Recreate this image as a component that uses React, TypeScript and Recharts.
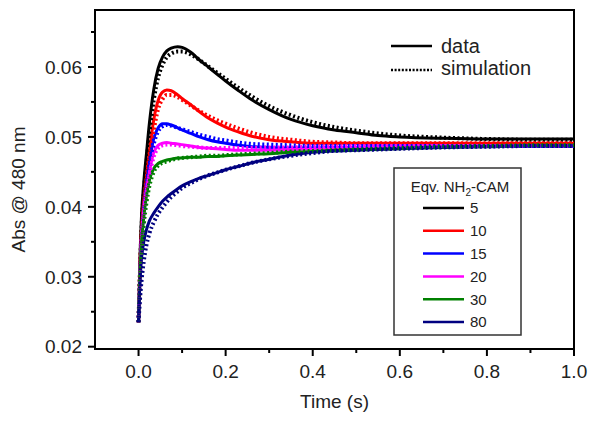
import React from 'react';
import { LineChart, Line, XAxis, YAxis, ReferenceArea, Legend } from 'recharts';

const times = [0, 0.003, 0.007, 0.012, 0.018, 0.025, 0.035, 0.045, 0.055, 0.065, 0.075, 0.09, 0.1, 0.12, 0.14, 0.16, 0.18, 0.2, 0.23, 0.26, 0.3, 0.35, 0.4, 0.45, 0.5, 0.55, 0.6, 0.7, 0.8, 0.9, 1.0];

const data5 = [0.0235, 0.032, 0.039, 0.0435, 0.0475, 0.052, 0.0568, 0.0598, 0.0614, 0.0623, 0.0627, 0.0629, 0.0628, 0.0621, 0.0610, 0.0600, 0.0590, 0.0580, 0.0566, 0.0553, 0.0539, 0.0525, 0.0516, 0.0510, 0.0506, 0.0502, 0.0500, 0.0498, 0.0497, 0.0497, 0.0497];
const sim5 = [0.0235, 0.030, 0.037, 0.042, 0.046, 0.0505, 0.0553, 0.0585, 0.0603, 0.0614, 0.0619, 0.0622, 0.0622, 0.0618, 0.0610, 0.0601, 0.0592, 0.0583, 0.0570, 0.0558, 0.0544, 0.0531, 0.0521, 0.0514, 0.0509, 0.0505, 0.0502, 0.0499, 0.0497, 0.0496, 0.0496];
const data10 = [0.0235, 0.031, 0.037, 0.041, 0.0445, 0.048, 0.0525, 0.0552, 0.0564, 0.0567, 0.0566, 0.0560, 0.0555, 0.0546, 0.0536, 0.0527, 0.0520, 0.0514, 0.0507, 0.0501, 0.0496, 0.0493, 0.0491, 0.0491, 0.0491, 0.0491, 0.0491, 0.0491, 0.0491, 0.0491, 0.0491];
const sim10 = [0.0235, 0.030, 0.036, 0.040, 0.0435, 0.047, 0.051, 0.0540, 0.0554, 0.0560, 0.0560, 0.0557, 0.0553, 0.0545, 0.0537, 0.0530, 0.0524, 0.0519, 0.0512, 0.0506, 0.0500, 0.0496, 0.0493, 0.0492, 0.0491, 0.0491, 0.0491, 0.0491, 0.0491, 0.0491, 0.0491];
const data15 = [0.0235, 0.030, 0.036, 0.040, 0.0435, 0.0465, 0.0498, 0.0513, 0.0519, 0.0519, 0.0517, 0.0513, 0.0510, 0.0505, 0.0500, 0.0496, 0.0493, 0.0491, 0.0488, 0.0486, 0.0485, 0.0484, 0.0484, 0.0485, 0.0485, 0.0486, 0.0486, 0.0486, 0.0487, 0.0487, 0.0487];
const sim15 = [0.0235, 0.029, 0.035, 0.039, 0.0425, 0.0455, 0.049, 0.0508, 0.0515, 0.0517, 0.0516, 0.0513, 0.0511, 0.0507, 0.0503, 0.0500, 0.0497, 0.0495, 0.0492, 0.0490, 0.0489, 0.0488, 0.0487, 0.0487, 0.0487, 0.0487, 0.0487, 0.0487, 0.0487, 0.0487, 0.0487];
const data20 = [0.0235, 0.030, 0.0355, 0.0395, 0.0425, 0.0450, 0.0478, 0.0488, 0.0491, 0.0492, 0.0491, 0.0490, 0.0489, 0.0487, 0.0485, 0.0484, 0.0483, 0.0482, 0.0481, 0.0481, 0.0481, 0.0482, 0.0483, 0.0484, 0.0485, 0.0485, 0.0486, 0.0487, 0.0487, 0.0487, 0.0487];
const sim20 = [0.0235, 0.029, 0.035, 0.039, 0.042, 0.0445, 0.0472, 0.0484, 0.0488, 0.0489, 0.0489, 0.0488, 0.0487, 0.0486, 0.0485, 0.0484, 0.0484, 0.0484, 0.0484, 0.0484, 0.0485, 0.0485, 0.0486, 0.0486, 0.0487, 0.0487, 0.0487, 0.0487, 0.0487, 0.0487, 0.0487];
const data30 = [0.0235, 0.030, 0.035, 0.0385, 0.0415, 0.0438, 0.0455, 0.0462, 0.0465, 0.0467, 0.0468, 0.0470, 0.0470, 0.0471, 0.0471, 0.0472, 0.0472, 0.0473, 0.0474, 0.0475, 0.0476, 0.0478, 0.0479, 0.0481, 0.0482, 0.0483, 0.0484, 0.0486, 0.0487, 0.0488, 0.0488];
const sim30 = [0.0235, 0.029, 0.034, 0.0375, 0.0405, 0.043, 0.0450, 0.0459, 0.0463, 0.0465, 0.0467, 0.0469, 0.0470, 0.0471, 0.0472, 0.0473, 0.0473, 0.0474, 0.0475, 0.0476, 0.0477, 0.0479, 0.0480, 0.0481, 0.0482, 0.0483, 0.0484, 0.0486, 0.0487, 0.0488, 0.0488];
const data80 = [0.0235, 0.029, 0.0327, 0.0350, 0.0367, 0.0380, 0.0391, 0.0400, 0.0408, 0.0414, 0.0419, 0.0426, 0.0430, 0.0436, 0.0441, 0.0445, 0.0449, 0.0453, 0.0458, 0.0463, 0.0468, 0.0474, 0.0478, 0.0480, 0.0481, 0.0482, 0.0483, 0.0485, 0.0486, 0.0487, 0.0487];
const sim80 = [0.0235, 0.0265, 0.0295, 0.0322, 0.0345, 0.0362, 0.0378, 0.0390, 0.0399, 0.0407, 0.0414, 0.0422, 0.0427, 0.0434, 0.0440, 0.0445, 0.0449, 0.0453, 0.0458, 0.0463, 0.0468, 0.0473, 0.0477, 0.0480, 0.0481, 0.0482, 0.0483, 0.0485, 0.0486, 0.0487, 0.0487];

const seriesLabels = ['5', '10', '15', '20', '30', '80'];
const seriesColors = ['#000000', '#ff0000', '#0000ff', '#ff00ff', '#008000', '#000080'];
const dataSeries = [data5, data10, data15, data20, data30, data80];
const simSeries = [sim5, sim10, sim15, sim20, sim30, sim80];

const xMajor = [0, 0.2, 0.4, 0.6, 0.8, 1.0];
const xTicks = [0, 0.1, 0.2, 0.3, 0.4, 0.5, 0.6, 0.7, 0.8, 0.9, 1.0];
const yMajor = [0.02, 0.03, 0.04, 0.05, 0.06];
const yTicks = [0.02, 0.025, 0.03, 0.035, 0.04, 0.045, 0.05, 0.055, 0.06, 0.065];
const xDomain = [-0.1, 1.0];
const yDomain = [0.01967, 0.06815];

const rows = times.map((t, i) => {
  const r: Record<string, number> = { t };
  seriesLabels.forEach((lab, k) => {
    r['d' + lab] = dataSeries[k][i];
    r['s' + lab] = simSeries[k][i];
  });
  return r;
});

const FONT = "Arial, 'Liberation Sans', sans-serif";
const TXT = '#222';
const TS = 7;
const X_TM = 9;
const Y_TM = 6;

const isIn = (arr: number[], v: number) => arr.some((m) => Math.abs(m - v) < 1e-9);

const XTick = (props: any) => {
  const { x, y, payload } = props;
  const v = payload.value;
  const major = isIn(xMajor, v);
  const axisY = y - TS - X_TM;
  return (
    <g>
      <line x1={x} x2={x} y1={axisY} y2={axisY + (major ? TS : 4)} stroke="#000" strokeWidth={2} />
      {major && (
        <text x={x} y={y} dy="0.71em" textAnchor="middle" fontSize={19} fontFamily={FONT} fill={TXT}>
          {v.toFixed(1)}
        </text>
      )}
    </g>
  );
};

const YTick = (props: any) => {
  const { x, y, payload } = props;
  const v = payload.value;
  const major = isIn(yMajor, v);
  const axisX = x + TS + Y_TM;
  return (
    <g>
      <line x1={axisX - (major ? TS : 4)} x2={axisX} y1={y} y2={y} stroke="#000" strokeWidth={2} />
      {major && (
        <text x={x} y={y} dy="0.355em" textAnchor="end" fontSize={19} fontFamily={FONT} fill={TXT}>
          {v.toFixed(2)}
        </text>
      )}
    </g>
  );
};

const XLabel = (props: any) => {
  const vb = props.viewBox;
  return (
    <text x={vb.x + vb.width / 2} y={vb.y + 59} textAnchor="middle" fontSize={19} fontFamily={FONT} fill={TXT}>
      Time (s)
    </text>
  );
};

const YLabel = (props: any) => {
  const vb = props.viewBox;
  const cx = vb.x + 18;
  const cy = vb.y + vb.height / 2 + 10;
  return (
    <text x={cx} y={cy} dy="0.355em" transform={`rotate(-90 ${cx} ${cy})`} textAnchor="middle" fontSize={19} fontFamily={FONT} fill={TXT}>
      Abs @ 480 nm
    </text>
  );
};

const LegendContent = () => (
  <svg width={600} height={423} style={{ position: 'absolute', left: 0, top: 0 }} fontFamily={FONT}>
    <line x1={391} x2={432} y1={46} y2={46} stroke="#000" strokeWidth={2.5} />
    <text x={441} y={46} dy="0.355em" fontSize={20} fill={TXT}>data</text>
    <line x1={391} x2={432} y1={70} y2={70} stroke="#000" strokeWidth={2.5} strokeDasharray="2 1.6" />
    <text x={441} y={68} dy="0.355em" fontSize={20} fill={TXT}>simulation</text>
    <rect x={394} y={168} width={127} height={167} fill="#fff" stroke="#333" strokeWidth={1.5} />
    <text x={460} y={187} dy="0.355em" textAnchor="middle" fontSize={15} fill={TXT}>
      Eqv. NH<tspan fontSize={10} dy={4}>2</tspan><tspan dy={-4}>-CAM</tspan>
    </text>
    {seriesLabels.map((lab, i) => {
      const yy = 208 + i * 22.8;
      return (
        <g key={lab}>
          <line x1={423} x2={464} y1={yy} y2={yy} stroke={seriesColors[i]} strokeWidth={2.5} />
          <text x={470} y={yy} dy="0.355em" fontSize={15} fill={TXT}>{lab}</text>
        </g>
      );
    })}
  </svg>
);

export default function App() {
  return (
    <div style={{ position: 'absolute', left: 0, top: 0, background: '#fff' }}>
      <LineChart width={600} height={423} data={rows} margin={{ top: 10, right: 26, bottom: 0, left: 0 }}>
        <XAxis
          dataKey="t"
          type="number"
          domain={xDomain}
          ticks={xTicks}
          allowDataOverflow
          height={74}
          tickSize={TS}
          tickMargin={X_TM}
          tickLine={false}
          axisLine={{ stroke: '#000', strokeWidth: 2 }}
          tick={<XTick />}
          interval={0}
          label={{ content: <XLabel /> }}
        />
        <YAxis
          type="number"
          domain={yDomain}
          ticks={yTicks}
          allowDataOverflow
          width={95}
          tickSize={TS}
          tickMargin={Y_TM}
          tickLine={false}
          axisLine={{ stroke: '#000', strokeWidth: 2 }}
          tick={<YTick />}
          interval={0}
          label={{ content: <YLabel /> }}
        />
        <ReferenceArea x1={xDomain[0]} x2={xDomain[1]} y1={yDomain[0]} y2={yDomain[1]} fill="none" stroke="#000" strokeWidth={2} fillOpacity={0} ifOverflow="visible" />
        {seriesLabels.map((lab, i) => (
          <Line key={'d' + lab} type="monotone" dataKey={'d' + lab} stroke={seriesColors[i]} strokeWidth={3} dot={false} isAnimationActive={false} />
        ))}
        {seriesLabels.map((lab, i) => (
          <Line key={'s' + lab} type="monotone" dataKey={'s' + lab} stroke={seriesColors[i]} strokeWidth={4} strokeDasharray="2 2.5" dot={false} isAnimationActive={false} />
        ))}
        <Legend
          layout="vertical"
          align="center"
          verticalAlign="middle"
          content={<LegendContent />}
          wrapperStyle={{ position: 'absolute', left: 0, top: 0, width: 600, height: 423, pointerEvents: 'none' }}
        />
      </LineChart>
    </div>
  );
}
